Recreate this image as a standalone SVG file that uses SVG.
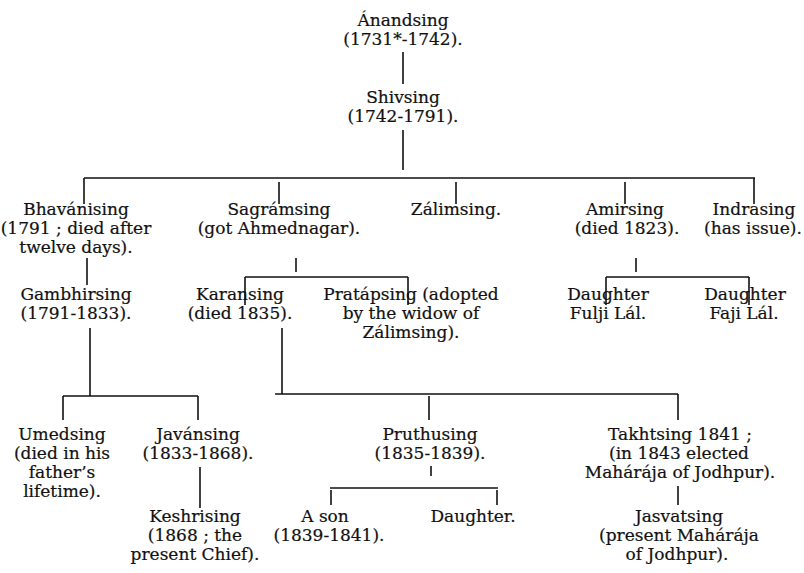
<svg xmlns="http://www.w3.org/2000/svg" width="804" height="573" viewBox="0 0 804 573">
<style>
text{font-family:"DejaVu Serif","Liberation Serif",serif;font-size:17px;fill:#111;stroke:#111;stroke-width:0.2;text-anchor:middle}
.c line{stroke:#111;stroke-width:1.6}
</style>
<rect width="804" height="573" fill="#fff"/>
<g class="c" id="connectors">
<line x1="403" y1="52" x2="403" y2="84"/>
<line x1="403" y1="130" x2="403" y2="170"/>
<line x1="84" y1="178" x2="755" y2="178"/>
<line x1="84" y1="178" x2="84" y2="204"/>
<line x1="279" y1="182" x2="279" y2="204"/>
<line x1="456" y1="182" x2="456" y2="204"/>
<line x1="625" y1="182" x2="625" y2="204"/>
<line x1="754" y1="178" x2="754" y2="204"/>
<line x1="87" y1="258" x2="87" y2="285"/>
<line x1="296" y1="258" x2="296" y2="272"/>
<line x1="245" y1="277" x2="408" y2="277"/>
<line x1="245" y1="277" x2="245" y2="305"/>
<line x1="408" y1="277" x2="408" y2="305"/>
<line x1="636" y1="258" x2="636" y2="272"/>
<line x1="606" y1="277" x2="749" y2="277"/>
<line x1="606" y1="277" x2="606" y2="305"/>
<line x1="749" y1="277" x2="749" y2="305"/>
<line x1="90" y1="328" x2="90" y2="396"/>
<line x1="63" y1="396" x2="198" y2="396"/>
<line x1="63" y1="396" x2="63" y2="420"/>
<line x1="198" y1="396" x2="198" y2="420"/>
<line x1="282" y1="328" x2="282" y2="394"/>
<line x1="275" y1="394" x2="678" y2="394"/>
<line x1="429" y1="396" x2="429" y2="420"/>
<line x1="678" y1="394" x2="678" y2="420"/>
<line x1="200" y1="467" x2="200" y2="508"/>
<line x1="431" y1="466" x2="431" y2="476"/>
<line x1="330" y1="488" x2="498" y2="488"/>
<line x1="331" y1="490" x2="331" y2="505"/>
<line x1="497" y1="490" x2="497" y2="505"/>
<line x1="678" y1="486" x2="678" y2="505"/>
</g>
<g id="anandsing"><text x="403" y="26">Ánandsing</text><text x="403" y="45">(1731*-1742).</text></g>
<g id="shivsing"><text x="403" y="103">Shivsing</text><text x="403" y="122">(1742-1791).</text></g>
<g id="bhavanising"><text x="76" y="215">Bhavánising</text><text x="76" y="234">(1791 ; died after</text><text x="76" y="253">twelve days).</text></g>
<g id="sagramsing"><text x="279" y="215">Sagrámsing</text><text x="279" y="234">(got Ahmednagar).</text></g>
<g id="zalimsing"><text x="456" y="215">Zálimsing.</text></g>
<g id="amirsing"><text x="625" y="215">Amirsing</text><text x="627" y="234">(died 1823).</text></g>
<g id="indrasing"><text x="754" y="215">Indrasing</text><text x="753" y="234">(has issue).</text></g>
<g id="gambhirsing"><text x="76" y="300">Gambhirsing</text><text x="76" y="319">(1791-1833).</text></g>
<g id="karansing"><text x="240" y="300">Karansing</text><text x="240" y="319">(died 1835).</text></g>
<g id="pratapsing"><text x="411" y="300">Pratápsing (adopted</text><text x="411" y="319">by the widow of</text><text x="411" y="338">Zálimsing).</text></g>
<g id="daughter-fulji"><text x="608" y="300">Daughter</text><text x="608" y="319">Fulji Lál.</text></g>
<g id="daughter-faji"><text x="745" y="300">Daughter</text><text x="744" y="319">Faji Lál.</text></g>
<g id="umedsing"><text x="62" y="440">Umedsing</text><text x="62" y="459">(died in his</text><text x="62" y="478">father’s</text><text x="62" y="497">lifetime).</text></g>
<g id="javansing"><text x="198" y="440">Javánsing</text><text x="198" y="459">(1833-1868).</text></g>
<g id="keshrising"><text x="195" y="522">Keshrising</text><text x="195" y="541">(1868 ; the</text><text x="195" y="560">present Chief).</text></g>
<g id="pruthusing"><text x="430" y="440">Pruthusing</text><text x="430" y="459">(1835-1839).</text></g>
<g id="a-son"><text x="325" y="522">A son</text><text x="329" y="541">(1839-1841).</text></g>
<g id="daughter"><text x="473" y="522">Daughter.</text></g>
<g id="takhtsing"><text x="680" y="440">Takhtsing 1841 ;</text><text x="679" y="459">(in 1843 elected</text><text x="680" y="478">Mahárája of Jodhpur).</text></g>
<g id="jasvatsing"><text x="679" y="522">Jasvatsing</text><text x="679" y="541">(present Mahárája</text><text x="677" y="560">of Jodhpur).</text></g>
</svg>
